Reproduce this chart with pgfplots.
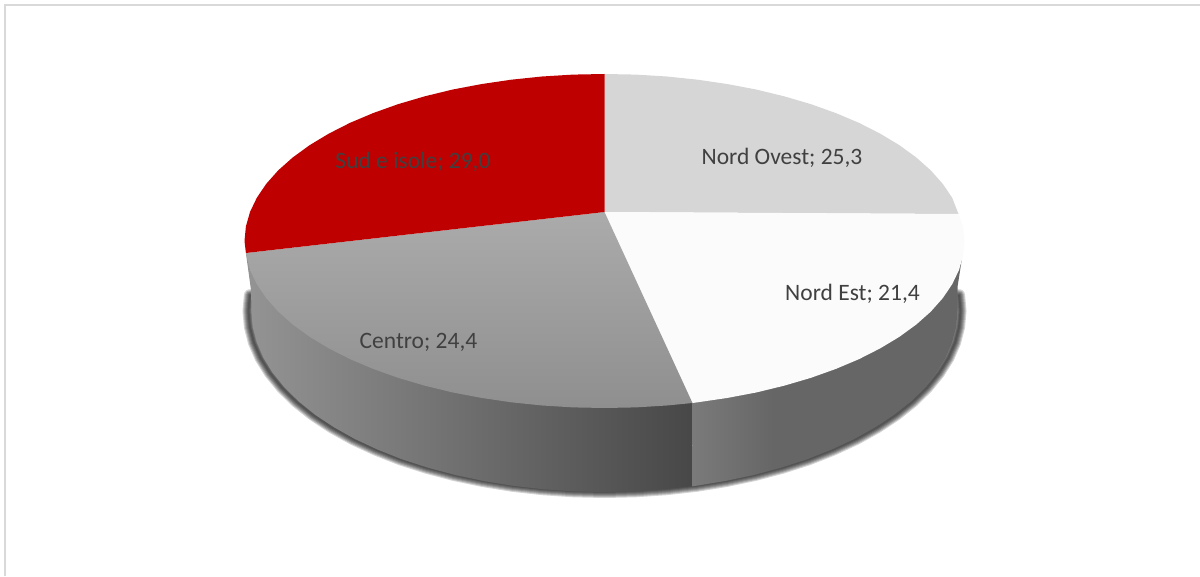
\documentclass[border=0pt]{standalone}
\usepackage{pgfplots}
\pgfplotsset{compat=1.18}
\usepackage{fontspec}
\setmainfont{Carlito}
\definecolor{labelc}{HTML}{404040}
\definecolor{frame}{HTML}{D9D9D9}
\definecolor{sud}{HTML}{BE0000}
\definecolor{ovest}{HTML}{D6D6D6}
\definecolor{est}{HTML}{FBFBFB}
\pgfdeclarehorizontalshading{estside}{100bp}{color(0bp)=(black!52);color(25bp)=(black!52);color(40bp)=(black!60);color(100bp)=(black!60)}

% line of the shadow under the pie, pixels relative to the pie centre
\pgfplotstableread{
x y
354.6 -54.2
356 -70
354.6 -85.8
350.6 -101.4
343.9 -116.8
334.5 -131.9
322.6 -146.5
308.3 -160.5
291.6 -173.8
272.7 -186.3
251.7 -198
228.8 -208.6
204.2 -218.3
178 -226.7
150.4 -234
121.8 -240
92.1 -244.8
61.8 -248.2
30.9 -250.3
0 -251
-30.9 -250.3
-61.8 -248.2
-92.1 -244.8
-121.8 -240
-150.4 -234
-178 -226.7
-204.2 -218.3
-228.8 -208.6
-251.7 -198
-272.7 -186.3
-291.6 -173.8
-308.3 -160.5
-322.6 -146.5
-334.5 -131.9
-343.9 -116.8
-350.6 -101.4
-354.6 -85.8
-356 -70
-354.6 -54.2
}\shadowline

\begin{document}
\begin{tikzpicture}
\useasboundingbox (0,0) rectangle (1200pt,576pt);
\begin{axis}[
  at={(0,0)}, anchor=south west,
  x=1pt, y=1pt,
  xmin=-604.5, xmax=595.5,
  ymin=-335, ymax=241,
  hide axis, clip=false
]
% chart frame
\addplot[frame, line width=2pt, no markers] coordinates {(-599.5,-335) (-599.5,236) (595.5,236)};

% soft shadow
\addplot[black, opacity=0.17, line width=12pt, no markers, line cap=round] table {\shadowline};
\addplot[black, opacity=0.17, line width=10pt, no markers, line cap=round] table {\shadowline};
\addplot[black, opacity=0.17, line width=8pt, no markers, line cap=round] table {\shadowline};
\addplot[black, opacity=0.17, line width=6pt, no markers, line cap=round] table {\shadowline};
\addplot[black, opacity=0.17, line width=4pt, no markers, line cap=round] table {\shadowline};
\addplot[black, opacity=0.17, line width=2pt, no markers, line cap=round] table {\shadowline};

% side, Centro
\addplot[draw=none, left color=black!42, right color=black!72] coordinates {
(-358.6,-12) (-353.5,-49) (-353,-70) (-351.7,-85.8) (-347.6,-101.4) (-341,-116.8) (-331.7,-131.9) (-319.9,-146.5)
(-305.7,-160.5) (-289.2,-173.8) (-270.4,-186.3) (-249.6,-198) (-226.9,-208.6) (-202.5,-218.3) (-176.5,-226.7)
(-149.2,-234) (-120.7,-240) (-91.4,-244.8) (-61.3,-248.2) (-30.8,-250.3) (0,-251) (30.8,-250.3) (61.3,-248.2)
(87.5,-245.3) (88,-162) (0,-100)} -- cycle;
% side, Nord Est
\addplot[draw=none, shading=estside] coordinates {
(88,-162) (87.5,-245.3) (91.4,-244.8) (120.7,-240) (149.2,-234) (176.5,-226.7) (202.5,-218.3) (226.9,-208.6)
(249.6,-198) (270.4,-186.3) (289.2,-173.8) (305.7,-160.5) (319.9,-146.5) (331.7,-131.9) (341,-116.8)
(347.6,-101.4) (351.7,-85.8) (353,-70) (353,-46) (357.5,-17) (200,-100)} -- cycle;

% top, Nord Ovest
\addplot[draw=none, fill=ovest] coordinates {
(0,29) (0,167) (31.4,166.4) (62.5,164.5) (93.2,161.3) (123.1,156.9) (152.1,151.4) (180,144.6) (206.5,136.8)
(231.4,127.9) (254.6,118.1) (275.8,107.3) (294.9,95.8) (311.8,83.5) (326.3,70.6) (338.3,57.1) (347.7,43.2)
(354,27)} -- cycle;
% top, Nord Est
\addplot[draw=none, fill=est] coordinates {
(0,29) (354,27) (358.6,14.6) (360,0) (358.6,-14.6) (354.5,-29) (347.7,-43.2) (338.3,-57.1) (326.3,-70.6)
(311.8,-83.5) (294.9,-95.8) (275.8,-107.3) (254.6,-118.1) (231.4,-127.9) (206.5,-136.8) (180,-144.6)
(152.1,-151.4) (123.1,-156.9) (93.2,-161.3) (88,-162)} -- cycle;
% top, Centro
\addplot[draw=none, top color=black!33, bottom color=black!44] coordinates {
(0,29) (88,-162) (62.5,-164.5) (31.4,-166.4) (0,-167) (-31.4,-166.4) (-62.5,-164.5) (-93.2,-161.3)
(-123.1,-156.9) (-152.1,-151.4) (-180,-144.6) (-206.5,-136.8) (-231.4,-127.9) (-254.6,-118.1) (-275.8,-107.3)
(-294.9,-95.8) (-311.8,-83.5) (-326.3,-70.6) (-338.3,-57.1) (-347.7,-43.2) (-354.5,-29) (-358.6,-12)} -- cycle;
% top, Sud e isole
\addplot[draw=none, fill=sud] coordinates {
(0,29) (-358.6,-12) (-360,0) (-358.6,14.6) (-354.5,29) (-347.7,43.2) (-338.3,57.1) (-326.3,70.6) (-311.8,83.5)
(-294.9,95.8) (-275.8,107.3) (-254.6,118.1) (-231.4,127.9) (-206.5,136.8) (-180,144.6) (-152.1,151.4)
(-123.1,156.9) (-93.2,161.3) (-62.5,164.5) (-31.4,166.4) (0,167)} -- cycle;

\node[text=labelc, font=\fontsize{23.5}{28}\selectfont] at (axis cs:177.5,83) {Nord Ovest; 25,3};
\node[text=labelc, font=\fontsize{23.5}{28}\selectfont] at (axis cs:248,-53) {Nord Est; 21,4};
\node[text=labelc, font=\fontsize{23.5}{28}\selectfont] at (axis cs:-186,-101) {Centro; 24,4};
\node[text=labelc, font=\fontsize{23.5}{28}\selectfont] at (axis cs:-191.5,79) {Sud e isole; 29,0};
\end{axis}
\end{tikzpicture}
\end{document}
